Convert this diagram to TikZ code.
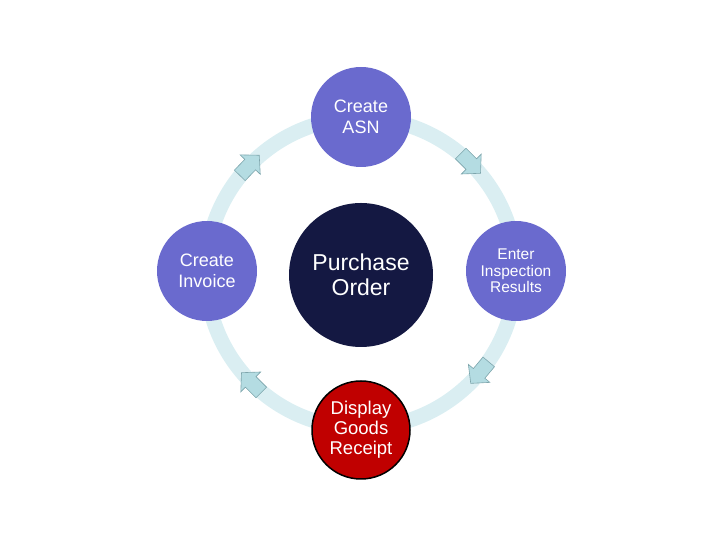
\documentclass[tikz,border=0pt]{standalone}
\usepackage{fontspec}
\setmainfont{Liberation Sans}
\definecolor{ringc}{RGB}{218,238,242}
\definecolor{arrowf}{RGB}{180,220,226}
\definecolor{arrowd}{RGB}{125,165,172}
\definecolor{stepc}{RGB}{106,106,206}
\definecolor{navy}{RGB}{20,24,66}
\definecolor{redc}{RGB}{192,0,0}
\tikzset{
  stepnode/.style={circle, fill=stepc, minimum size=100pt, inner sep=0pt, text=white, align=center, font=\fontsize{18}{21}\selectfont},
  hubnode/.style={circle, fill=navy, minimum size=144pt, inner sep=0pt, text=white, align=center, font=\fontsize{23}{25}\selectfont},
  goodsnode/.style={circle, fill=redc, draw=black, line width=1.5pt, minimum size=98pt, inner sep=0pt, text=white, align=center, font=\fontsize{18.5}{20}\selectfont},
  ringline/.style={draw=ringc, line width=15pt},
  flowarrow/.style={fill=arrowf, draw=arrowd, line width=0.6pt, line join=miter}
}
\newcommand{\flowarrowat}[1]{%
  \path[flowarrow, shift={($(ring)+(#1:155pt)$)}, rotate=#1-90]
    (-14pt,-7.5pt) -- (1pt,-7.5pt) -- (1pt,-14pt) -- (14pt,0pt) -- (1pt,14pt) -- (1pt,7.5pt) -- (-14pt,7.5pt) -- cycle;}
\usetikzlibrary{calc}
\begin{document}
\begin{tikzpicture}[x=1pt,y=1pt]
\useasboundingbox (0,0) rectangle (720,540);
\coordinate (ring) at (361,267);
\path[ringline] (ring) circle[radius=155pt];
\flowarrowat{45}
\flowarrowat{-40}
\flowarrowat{-135}
\flowarrowat{136}
\node[hubnode] (po) at (361,265) {Purchase\\Order};
\node[stepnode] (asn) at (361,423) {Create\\ASN};
\node[stepnode, font=\fontsize{15.5}{16.5}\selectfont] (insp) at (516,269) {Enter\\Inspection\\Results};
\node[stepnode] (inv) at (207,269) {Create\\Invoice};
\node[goodsnode] (gr) at (361,110) {Display\\Goods\\Receipt};
\end{tikzpicture}
\end{document}
